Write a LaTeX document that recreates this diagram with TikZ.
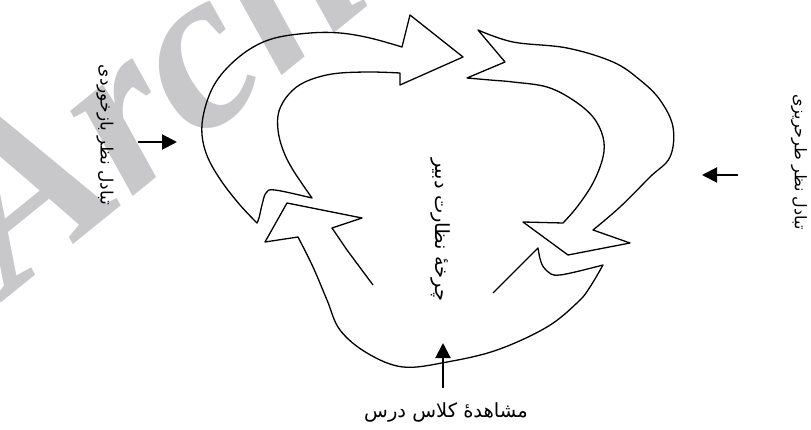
\documentclass[tikz,border=0pt]{standalone}
\usepackage{fontspec}
\usetikzlibrary{arrows.meta}
\TeXXeTstate=1
\newfontfamily\arabicfont[Script=Arabic]{DejaVu Sans}
\newfontfamily\wmfont{Liberation Serif}
\definecolor{wmgray}{RGB}{200,200,202}
\tikzset{
  band/.style={draw=black, line width=1.3pt, line join=round},
  pointer/.style={draw=black, line width=2pt, -{Triangle[length=15pt,width=15pt]}},
  farsi/.style={font=\arabicfont, inner sep=0pt},
  watermark/.style={text=wmgray, font=\wmfont\bfseries\itshape\fontsize{230}{230}\selectfont, inner sep=0pt}
}
\begin{document}
\begin{tikzpicture}[x=1pt,y=-1pt]
\useasboundingbox (0,0) rectangle (811,430);
% watermark
\begin{scope}
\clip (0,0) rectangle (811,430);
\node[watermark, rotate=39, anchor=base west] (wm) at (10,296) {Archive};
\end{scope}
% arrow 1 (top-left)
\draw[band] plot[smooth, tension=0.6] coordinates {(257,223) (240,205) (222,182) (208,158) (202,135) (204,112) (213,87) (228,67) (250,49) (275,38) (310,33) (340,33) (370,38) (402,47)}
  -- (410,15) -- (463,57) -- (400,85) -- (400,73)
  -- plot[smooth, tension=0.6] coordinates {(400,73) (367,72) (332,74) (305,82) (289,94) (279,111) (278,130) (283,150) (293,170) (312,198)}
  -- plot[smooth, tension=0.6] coordinates {(312,198) (275,190) (266,193) (262,205) (259,218) (257,223)} -- cycle;
% arrow 2 (right)
\draw[band] (478,30) -- (505,62) -- (467,78)
  -- plot[smooth, tension=0.6] coordinates {(467,78) (490,80) (513,82) (547,87) (573,100) (593,117) (603,137) (603,157) (593,183) (577,207) (563,223)}
  -- (523,222) -- (568,255) -- (630,243) -- (593,230)
  -- plot[smooth, tension=0.6] coordinates {(593,230) (620,207) (650,177) (670,157) (673,127) (660,100) (640,80) (613,62) (567,48) (513,42) (478,30)} -- cycle;
% arrow 3 (bottom)
\draw[band] (493,293) -- (538,248)
  -- plot[smooth, tension=0.6] coordinates {(538,248) (541,262) (547,271) (560,275) (603,265)}
  -- plot[smooth, tension=0.6] coordinates {(603,265) (590,287) (578,302) (547,327) (497,350) (447,362) (403,367) (367,353) (340,330) (327,300) (313,267) (298,237)}
  -- (265,242) -- (287,203) -- (362,218) -- (332,228) -- (347,250) -- (373,285);
% labels
\node[farsi, rotate=-90, font=\arabicfont\fontsize{17}{19}\selectfont] (left) at (105,135) {\beginR تبادل نظر بازخوردی\endR};
\node[farsi, rotate=-90, font=\arabicfont\fontsize{16}{18}\selectfont] (right) at (799,162) {\beginR تبادل نظر طرحریزی\endR};
\node[farsi, rotate=-90, font=\arabicfont\fontsize{19.5}{21}\selectfont] (center) at (441,230) {\beginR چرخهٔ نظارت دبیر\endR};
\node[farsi, font=\arabicfont\fontsize{19.5}{21}\selectfont] (bottom) at (446,412) {\beginR مشاهدهٔ کلاس درس\endR};
% pointers
\coordinate (l1) at (138,142); \coordinate (l2) at (177,142);
\coordinate (r1) at (738,175); \coordinate (r2) at (702,175);
\coordinate (b1) at (443,388); \coordinate (b2) at (443,343);
\draw[pointer] (l1) -- (l2);
\draw[pointer] (r1) -- (r2);
\draw[pointer] (b1) -- (b2);
\end{tikzpicture}
\end{document}
